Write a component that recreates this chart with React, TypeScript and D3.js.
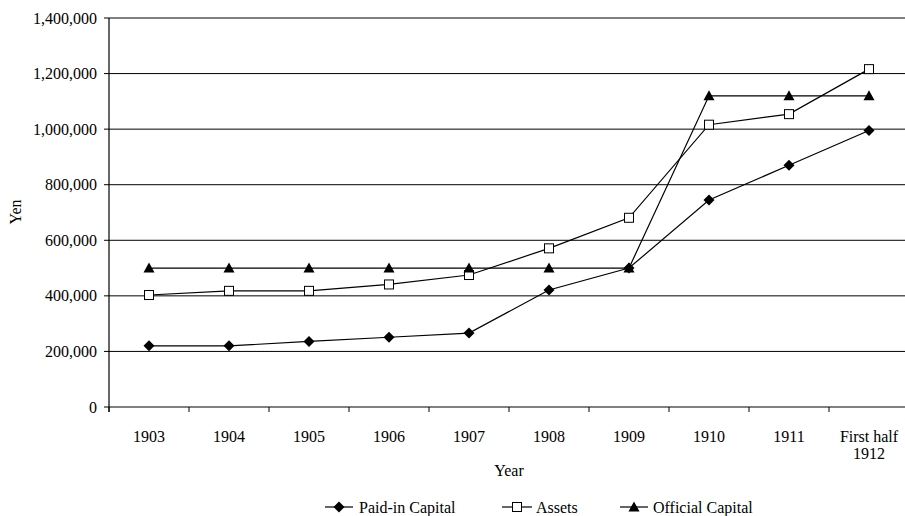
import React from "react";
import * as d3 from "d3";

const categories: string[][] = [["1903"], ["1904"], ["1905"], ["1906"], ["1907"], ["1908"], ["1909"], ["1910"], ["1911"], ["First half", "1912"]];
const paidIn: number[] = [220000, 220000, 236000, 251000, 266000, 421000, 500000, 745000, 870000, 995000];
const assets: number[] = [403000, 418000, 418000, 441000, 475000, 571000, 681000, 1016000, 1054000, 1216000];
const official: number[] = [500000, 500000, 500000, 500000, 500000, 500000, 500000, 1120000, 1120000, 1120000];
const yTicks: number[] = [0, 200000, 400000, 600000, 800000, 1000000, 1200000, 1400000];

const W = 905, H = 516;
const left = 109, right = 909, top = 18, bottom = 407;
const font = "'Liberation Serif', 'Times New Roman', Times, serif";
const fs = 16;

function Marker({ type, x, y }: { type: string; x: number; y: number }) {
  if (type === "diamond") {
    const s = 5.5;
    return <path d={`M${x},${y - s}L${x + s},${y}L${x},${y + s}L${x - s},${y}Z`} fill="#000" />;
  }
  if (type === "square") {
    const s = 4.5;
    return <rect x={x - s} y={y - s} width={2 * s} height={2 * s} fill="#fff" stroke="#000" strokeWidth={1} />;
  }
  const s = 5.5;
  return <path d={`M${x},${y - s}L${x + s},${y + s * 0.8}L${x - s},${y + s * 0.8}Z`} fill="#000" />;
}

export default function App() {
  const idx = categories.map((_, i) => String(i));
  const x = d3.scaleBand<string>().domain(idx).range([left, right]);
  const y = d3.scaleLinear().domain([0, 1400000]).range([bottom, top]);
  const fmt = d3.format(",");
  const cx = (i: number) => (x(String(i)) as number) + x.bandwidth() / 2;
  const line = d3.line<number>().x((_, i) => cx(i)).y((d) => y(d));
  const series = [
    { name: "Paid-in Capital", data: paidIn, marker: "diamond" },
    { name: "Assets", data: assets, marker: "square" },
    { name: "Official Capital", data: official, marker: "triangle" },
  ];
  const legend = [
    { x0: 325, x1: 353, tx: 359 },
    { x0: 502, x1: 532, tx: 536 },
    { x0: 620, x1: 648, tx: 653 },
  ];
  const boundaries = idx.map((k) => x(k) as number).concat([right]);
  return (
    <svg width={W} height={H} style={{ position: "absolute", left: 0, top: 0, background: "#fff" }}>
      <g fontFamily={font} style={{ fontFamily: font }}>
        {yTicks.map((t) => (
          <g key={t}>
            <line x1={104} x2={right} y1={y(t)} y2={y(t)} stroke="#000" strokeWidth={1} />
            <text x={97} y={y(t)} dy="0.35em" textAnchor="end" fontSize={fs}>{fmt(t)}</text>
          </g>
        ))}
        <line x1={left} x2={left} y1={top} y2={bottom + 5} stroke="#000" strokeWidth={1.2} />
        {boundaries.map((b, i) => (
          <line key={i} x1={b} x2={b} y1={bottom} y2={bottom + 5} stroke="#000" strokeWidth={1} />
        ))}
        {categories.map((c, i) => (
          <text key={i} x={cx(i)} y={436} textAnchor="middle" fontSize={fs}>
            {c.map((l, j) => (
              <tspan key={j} x={cx(i)} dy={j === 0 ? "0.35em" : "1.1em"}>{l}</tspan>
            ))}
          </text>
        ))}
        <text x={509} y={470} dy="0.35em" textAnchor="middle" fontSize={fs}>Year</text>
        <text transform="translate(15,212) rotate(-90)" dy="0.35em" textAnchor="middle" fontSize={fs}>Yen</text>
        {series.map((s) => (
          <g key={s.name}>
            <path d={line(s.data) || ""} fill="none" stroke="#000" strokeWidth={1.2} />
            {s.data.map((v, i) => (
              <Marker key={i} type={s.marker} x={cx(i)} y={y(v)} />
            ))}
          </g>
        ))}
        {series.map((s, i) => (
          <g key={s.name}>
            <line x1={legend[i].x0} x2={legend[i].x1} y1={507} y2={507} stroke="#000" strokeWidth={1.2} />
            <Marker type={s.marker} x={(legend[i].x0 + legend[i].x1) / 2} y={507} />
            <text x={legend[i].tx} y={507} dy="0.35em" fontSize={fs}>{s.name}</text>
          </g>
        ))}
      </g>
    </svg>
  );
}
